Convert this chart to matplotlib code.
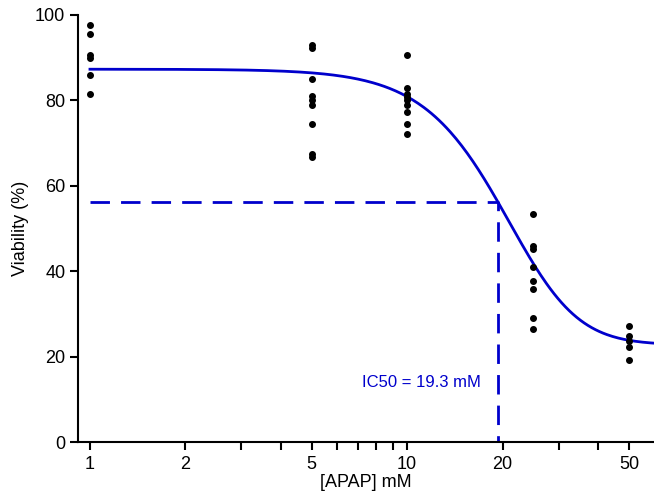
import numpy as np
import matplotlib.pyplot as plt
from matplotlib.ticker import FixedLocator, NullFormatter

plt.rcParams['font.family'] = ['Liberation Sans', 'DejaVu Sans']

conc = [1]*6 + [5]*9 + [10]*9 + [25]*8 + [50]*5
viab = [97.6, 95.5, 90.6, 89.9, 85.9, 81.4,
        93.0, 92.2, 85.0, 81.0, 80.0, 79.0, 74.4, 67.5, 66.8,
        90.6, 83.0, 81.4, 80.7, 80.0, 79.0, 77.4, 74.4, 72.2,
        53.4, 46.0, 45.2, 41.0, 37.7, 35.8, 29.2, 26.4,
        27.1, 24.8, 23.6, 22.4, 19.3]
top, bottom, ic50, ic50_level = 87.3, 22.8, 19.3, 56.3
hill, asym = 3.0, 2.0
frac = (ic50_level - bottom) / (top - bottom)
c = ic50 / (frac ** (-1 / asym) - 1) ** (1 / hill)

def curve(x):
    return bottom + (top - bottom) / (1 + (x / c) ** hill) ** asym

fig, ax = plt.subplots(figsize=(6.54, 4.97), dpi=100)
fig.subplots_adjust(left=0.12, right=1.0, top=0.97, bottom=0.11)

xs = np.logspace(0, np.log10(60), 300)
ax.plot(xs, curve(xs), color='#0000cc', lw=2)
ax.plot(conc, viab, 'o', color='black', ms=4)
ax.plot([1, ic50, ic50], [ic50_level, ic50_level, 0], '--', color='#0000cc',
        lw=2, dashes=(7, 4))
ax.text(7.2, 14, 'IC50 = 19.3 mM', color='#0000cc', fontsize=12, va='center')

ax.set_xscale('log')
ax.set_xlim(0.92, 60)
ax.set_ylim(0, 100)
ax.xaxis.set_major_locator(FixedLocator([1, 2, 5, 10, 20, 50]))
ax.xaxis.set_minor_locator(FixedLocator([3, 4, 6, 7, 8, 9, 30, 40]))
ax.xaxis.set_minor_formatter(NullFormatter())
ax.set_xticklabels(['1', '2', '5', '10', '20', '50'])
ax.set_yticks([0, 20, 40, 60, 80, 100])
ax.tick_params(labelsize=13, width=1.5, length=6)
ax.tick_params(which='minor', width=1.5, length=6)
for s in ['top', 'right']:
    ax.spines[s].set_visible(False)
for s in ['left', 'bottom']:
    ax.spines[s].set_linewidth(1.5)
ax.set_xlabel('[APAP] mM', fontsize=13, labelpad=1)
ax.set_ylabel('Viability (%)', fontsize=13)
fig.savefig('out.png')
